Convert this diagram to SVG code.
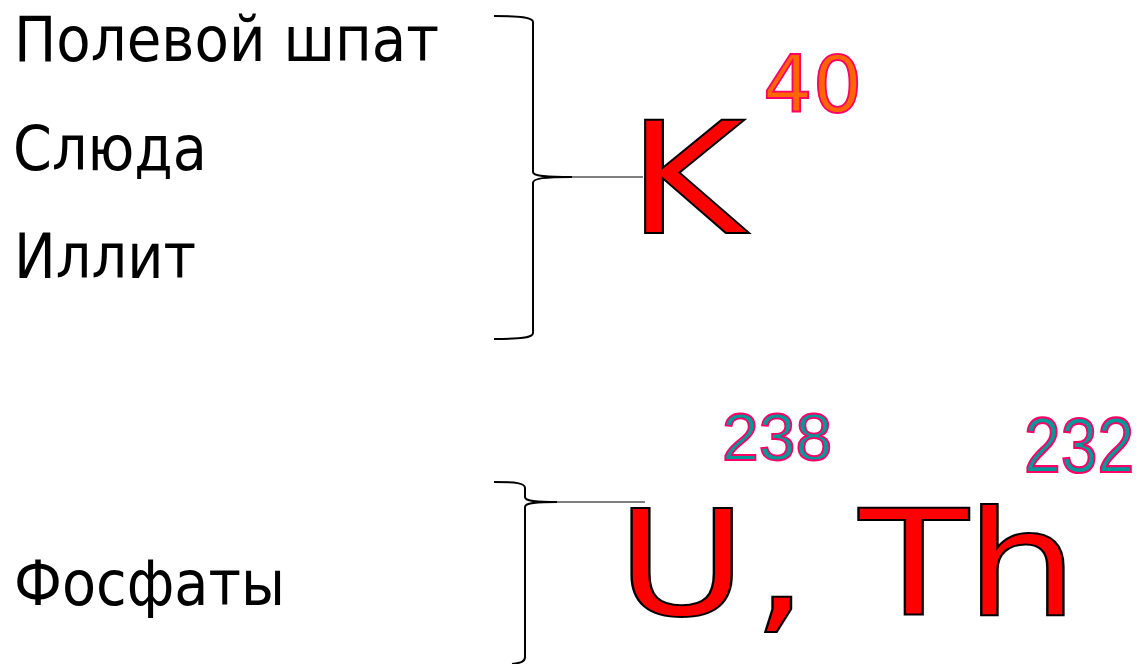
<svg xmlns="http://www.w3.org/2000/svg" width="1142" height="664" viewBox="0 0 1142 664">
<style>
.lbl{font-family:"DejaVu Sans","Noto Sans",sans-serif;font-size:63px;fill:#000}
.big{font-family:"DejaVu Sans","Noto Sans",sans-serif;fill:#ff0000;stroke:#000;stroke-width:2;vector-effect:non-scaling-stroke}
.sup1{font-family:"DejaVu Sans","Noto Sans",sans-serif;font-size:78px;fill:#ff6600;stroke:#ff0066;stroke-width:1.8}
.sup2{font-family:"Liberation Sans",Arial,sans-serif;font-size:66px;fill:#009999;stroke:#ff0066;stroke-width:1.8}
.brace{fill:none;stroke:#000;stroke-width:2}
.tail{fill:none;stroke:#000;stroke-width:1.2}
</style>
<rect width="1142" height="664" fill="#fff"/>
<g id="labels">
  <g id="feldspar"><text class="lbl" x="14" y="61" textLength="425" lengthAdjust="spacingAndGlyphs">Полевой шпат</text></g>
  <g id="mica"><text class="lbl" x="13" y="170" textLength="194" lengthAdjust="spacingAndGlyphs">Слюда</text></g>
  <g id="illite"><text class="lbl" x="14" y="278" textLength="182" lengthAdjust="spacingAndGlyphs">Иллит</text></g>
  <g id="phosphates"><text class="lbl" x="14" y="605" textLength="271" lengthAdjust="spacingAndGlyphs">Фосфаты</text></g>
</g>
<g id="connectors">
  <path class="brace" d="M494 16 C520 16 533 17 533 22 L533 172 C533 176 545 177 572 177 C545 177 533 178 533 183 L533 333 C533 338 520 339 494 339"/>
  <line class="tail" x1="572" y1="177" x2="643" y2="177"/>
  <path class="brace" d="M494 482 C516 482 525 483 525 488 L525 497 C525 501 535 502 557 502 C535 502 525 503 525 507 L525 657 C525 661 522 663 512 664"/>
  <line class="tail" x1="557" y1="502" x2="645" y2="502"/>
</g>
<g id="potassium">
  <text class="big" transform="scale(1.16,1)" x="541" y="233" font-size="155">K</text>
  <text class="sup1" x="763" y="112">40</text>
</g>
<g id="uranium-thorium">
  <text class="big" transform="scale(1.22,1)" y="615" font-size="147"><tspan x="505">U</tspan><tspan x="616">,</tspan><tspan x="704">T</tspan><tspan x="791">h</tspan></text>
  <text class="sup2" x="722" y="460">238</text>
  <text class="sup2" transform="translate(1024,472) scale(1,1.17)" x="0" y="0">232</text>
</g>
</svg>
